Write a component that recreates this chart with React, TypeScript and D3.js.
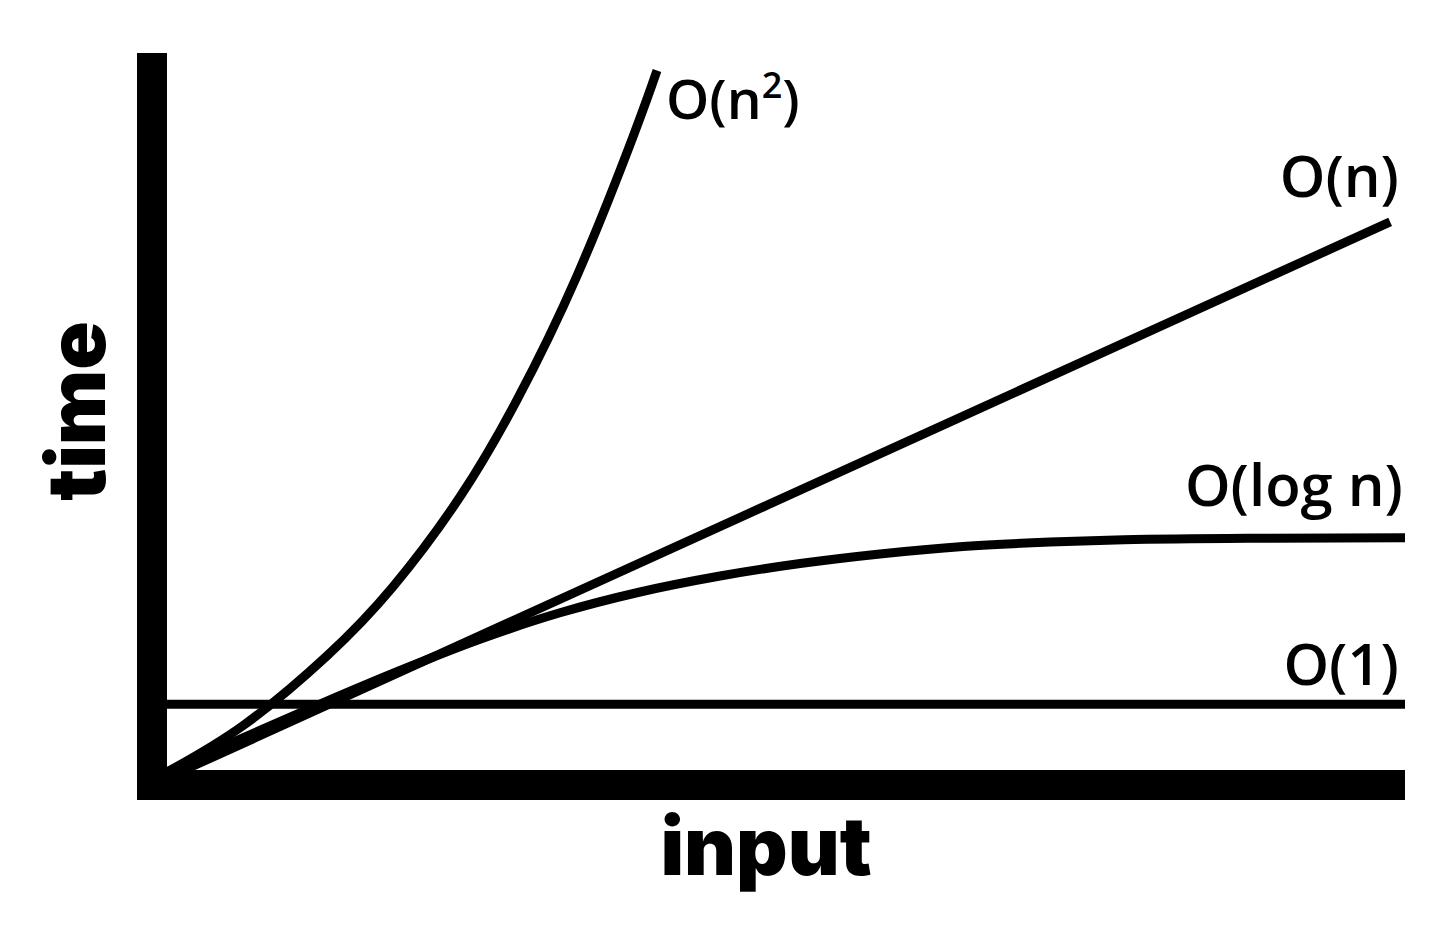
import React from 'react';
import * as d3 from 'd3';

// data (input units 0..100, time units 0..100)
const inputDomain: [number, number] = [0, 100];
const timeDomain: [number, number] = [0, 100];

const constantX = [0, 100];
const constantY = [9.4, 9.4];

const linearX = [1.05, 98.8];
const linearY = [0, 76.4];

const logX = [0, 5.9, 12.36, 18.82, 25.28, 31.74, 38.21, 44.67, 51.29, 57.59, 64.3, 71.32, 77.3, 87.48, 100];
const logY = [0, 4.56, 9.44, 14.11, 18.44, 22.11, 25.0, 27.22, 28.99, 30.29, 31.33, 31.94, 32.25, 32.46, 32.53];

const quadX = [0, 6.14, 12.92, 18.26, 23.67, 28.27, 33.12, 37.64, 39.58];
const quadY = [0, 6.44, 16.13, 25.75, 38.22, 51.68, 68.93, 88.22, 97.42];

const seriesLabels = ['O(1)', 'O(n)', 'O(log n)', 'O(n', '2', ')'];
const axisLabels = ['time', 'input'];

const W = 1456;
const H = 925;

export default function App() {
  const x = d3.scaleLinear().domain(inputDomain).range([167, 1405]);
  const y = d3.scaleLinear().domain(timeDomain).range([772, 52]);

  const zip = (xs: number[], ys: number[]) => xs.map((v, i) => [v, ys[i]] as [number, number]);

  const straight = d3.line<[number, number]>().x(d => x(d[0])).y(d => y(d[1]));
  const smoothLog = d3
    .line<[number, number]>()
    .x(d => x(d[0]))
    .y(d => y(d[1]))
    .curve(d3.curveMonotoneX);
  const smoothQuad = d3
    .line<[number, number]>()
    .x(d => x(d[0]))
    .y(d => y(d[1]))
    .curve(d3.curveNatural);

  const stroke = 9;
  const labelFont = "'Open Sans', 'Noto Sans', sans-serif";
  const heavyFont = "Inter, Lato, 'Noto Sans', sans-serif";

  const x0 = x(0);
  const y0 = y(0);
  const xEnd = x(inputDomain[1]);
  const bar = 30;

  const quadPts = zip(quadX, quadY);
  const quadEnd = quadPts[quadPts.length - 1];

  return (
    <svg
      width={W}
      height={H}
      style={{ position: 'absolute', left: 0, top: 0, background: '#fff' }}
    >
      <rect x={0} y={0} width={W} height={H} fill="#fff" />
      <g fill="none" stroke="#000" strokeWidth={stroke} strokeLinecap="butt">
        <path d={straight(zip(constantX, constantY)) || ''} />
        <path d={straight(zip(linearX, linearY)) || ''} />
        <path d={smoothLog(zip(logX, logY)) || ''} />
        <path d={smoothQuad(quadPts) || ''} />
      </g>
      {/* axes */}
      <rect x={x0 - bar} y={53} width={bar} height={y0 + 28 - 53} fill="#000" />
      <rect x={x0 - bar} y={y0 - 2} width={xEnd - (x0 - bar)} height={bar} fill="#000" />

      {/* series labels */}
      <g fontFamily={labelFont} fontWeight={600} fontSize={58} fill="#000">
        <text x={xEnd - 6} y={y(constantY[1]) - 19} textAnchor="end">
          {seriesLabels[0]}
        </text>
        <text x={xEnd - 6} y={197} textAnchor="end">
          {seriesLabels[1]}
        </text>
        <text x={xEnd - 2} y={y(logY[logY.length - 1]) - 32} textAnchor="end">
          {seriesLabels[2]}
        </text>
        <text x={x(quadEnd[0]) + 9} y={119} fontSize={55}>
          <tspan>{seriesLabels[3]}</tspan>
          <tspan fontSize={36} dy={-21}>
            {seriesLabels[4]}
          </tspan>
          <tspan dy={21}>{seriesLabels[5]}</tspan>
        </text>
      </g>

      {/* axis titles */}
      <g fontFamily={heavyFont} fontWeight={900} fontSize={80} fill="#000">
        <text transform={`translate(105, 411) rotate(-90)`} textAnchor="middle">
          {axisLabels[0]}
        </text>
        <text x={766} y={875} textAnchor="middle">
          {axisLabels[1]}
        </text>
      </g>
    </svg>
  );
}
